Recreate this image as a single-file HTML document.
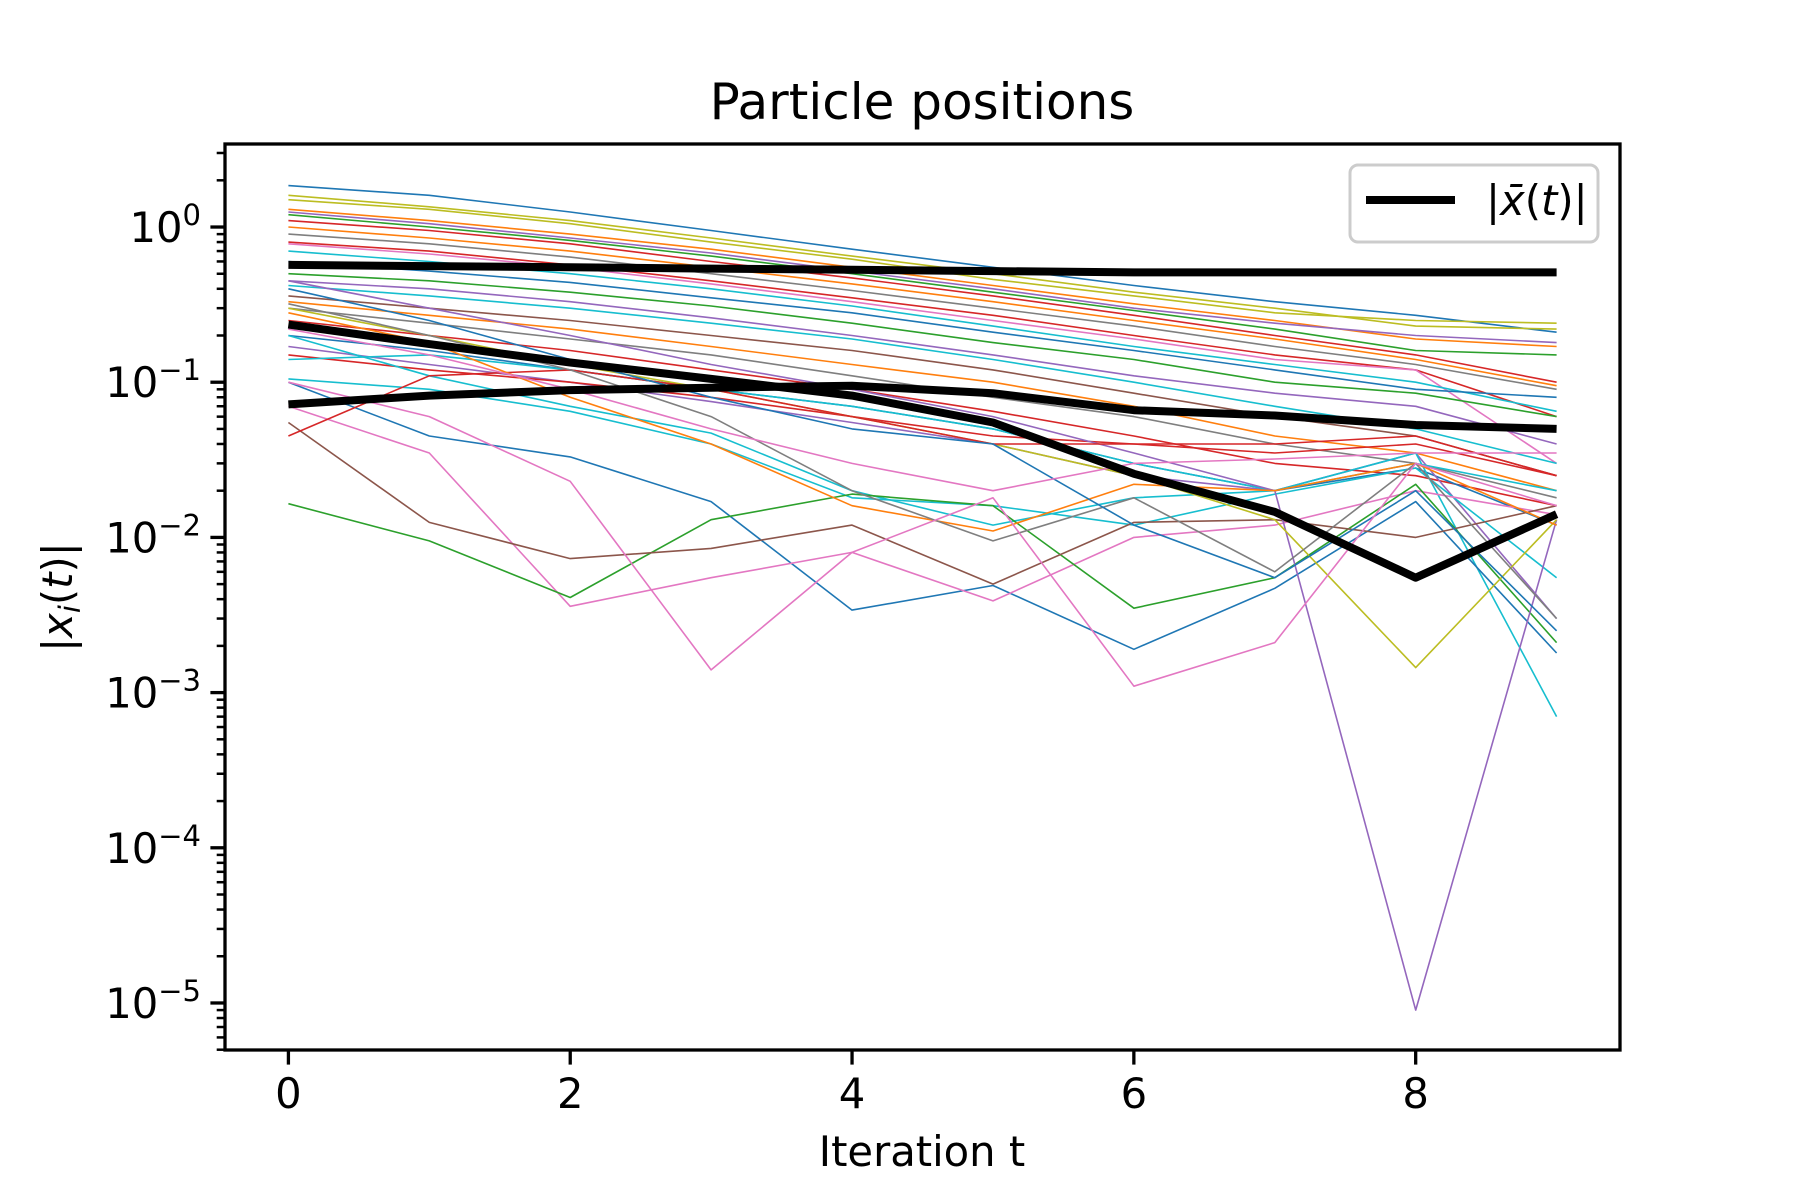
<!DOCTYPE html>
<html><head><meta charset="utf-8"><style>
html,body{margin:0;padding:0;background:#fff;}
svg{display:block;font-family:"DejaVu Sans","Liberation Sans",sans-serif;}
</style></head><body>
<svg id="chart" width="1800" height="1200" viewBox="0 0 1800 1200" xmlns="http://www.w3.org/2000/svg">
<rect width="1800" height="1200" fill="#fff"/>
<text x="922" y="119" font-size="50" text-anchor="middle">Particle positions</text>
<g id="lines"></g>
<g id="axes"></g>
<text x="922" y="1166" font-size="41.7" text-anchor="middle">Iteration t</text>
<text transform="translate(72,597) rotate(-90)" font-size="41.7" text-anchor="middle">|<tspan font-style="italic">x</tspan><tspan font-style="italic" font-size="29" dy="8">i</tspan><tspan dy="-8">(</tspan><tspan font-style="italic">t</tspan>)|</text>
<g>
<rect x="1350" y="165" width="248" height="77" rx="8" fill="#fff" fill-opacity="0.8" stroke="#ccc" stroke-width="3"/>
<line x1="1366" y1="200" x2="1455" y2="200" stroke="#000" stroke-width="8"/>
<text x="1486" y="215" font-size="41.7">|<tspan font-style="italic">x̄</tspan>(<tspan font-style="italic">t</tspan>)|</text>
</g>
</svg>
<script>
const iterations=[0,1,2,3,4,5,6,7,8,9];
const xTicks=[0,2,4,6,8];
const yTickExps=[0,-1,-2,-3,-4,-5];
const thin1=[1.85,1.6,1.25,0.95,0.72,0.55,0.42,0.33,0.27,0.21];
const thin2=[1.6,1.35,1.1,0.85,0.65,0.5,0.38,0.3,0.23,0.22];
const thin3=[1.5,1.3,1.05,0.8,0.62,0.46,0.36,0.28,0.25,0.24];
const thin4=[1.3,1.1,0.9,0.72,0.55,0.42,0.32,0.25,0.19,0.17];
const thin5=[1.25,1.05,0.85,0.68,0.52,0.4,0.3,0.24,0.2,0.18];
const thin6=[1.2,1.0,0.82,0.65,0.5,0.38,0.29,0.22,0.16,0.15];
const thin7=[1.1,0.95,0.78,0.6,0.47,0.36,0.27,0.2,0.15,0.1];
const thin8=[1.0,0.85,0.7,0.55,0.43,0.33,0.25,0.19,0.14,0.095];
const thin9=[0.9,0.78,0.64,0.5,0.39,0.3,0.23,0.17,0.13,0.09];
const thin10=[0.8,0.7,0.57,0.45,0.35,0.27,0.2,0.15,0.12,0.06];
const thin11=[0.78,0.67,0.55,0.43,0.33,0.25,0.19,0.14,0.12,0.03];
const thin12=[0.7,0.6,0.5,0.4,0.31,0.23,0.17,0.13,0.1,0.065];
const thin13=[0.6,0.52,0.44,0.35,0.28,0.21,0.16,0.12,0.09,0.08];
const thin14=[0.5,0.45,0.38,0.31,0.24,0.18,0.14,0.1,0.085,0.06];
const thin15=[0.45,0.4,0.33,0.26,0.2,0.15,0.11,0.085,0.07,0.04];
const thin16=[0.42,0.36,0.3,0.24,0.19,0.14,0.1,0.07,0.05,0.03];
const thin17=[0.36,0.3,0.25,0.2,0.16,0.12,0.085,0.06,0.045,0.025];
const thin18=[0.33,0.27,0.22,0.17,0.13,0.1,0.07,0.045,0.035,0.02];
const thin19=[0.3,0.24,0.19,0.15,0.11,0.08,0.06,0.04,0.03,0.018];
const thin20=[0.25,0.2,0.16,0.12,0.09,0.065,0.045,0.03,0.025,0.016];
const thin21=[0.2,0.16,0.12,0.09,0.07,0.05,0.03,0.02,0.028,0.012];
const thin22=[0.17,0.13,0.1,0.075,0.055,0.04,0.025,0.02,0.035,0.003];
const thin23=[0.15,0.12,0.1,0.08,0.06,0.045,0.04,0.04,0.045,0.025];
const thin24=[0.14,0.15,0.12,0.09,0.07,0.05,0.03,0.02,0.03,0.02];
const thin25=[0.105,0.09,0.065,0.04,0.018,0.016,0.012,0.019,0.028,0.0055];
const thin26=[0.2,0.11,0.07,0.047,0.02,0.012,0.018,0.02,0.035,0.0007];
const thin27=[0.1,0.045,0.033,0.017,0.0034,0.0049,0.0019,0.0047,0.017,0.0018];
const thin28=[0.07,0.035,0.0036,0.0055,0.008,0.0039,0.01,0.012,0.02,0.014];
const thin29=[0.0165,0.0095,0.0041,0.013,0.019,0.016,0.0035,0.0055,0.022,0.0021];
const thin30=[0.055,0.0125,0.0073,0.0085,0.012,0.005,0.0125,0.013,0.01,0.016];
const thin31=[0.45,0.3,0.2,0.13,0.09,0.06,0.035,0.02,0.000009,0.013];
const thin32=[0.3,0.2,0.13,0.09,0.06,0.04,0.025,0.013,0.00145,0.013];
const thin33=[0.045,0.11,0.12,0.09,0.06,0.04,0.04,0.035,0.04,0.025];
const thin34=[0.28,0.18,0.08,0.04,0.016,0.011,0.022,0.02,0.03,0.012];
const thin35=[0.32,0.2,0.12,0.06,0.02,0.0095,0.018,0.006,0.03,0.003];
const thin36=[0.4,0.25,0.14,0.08,0.05,0.04,0.012,0.0055,0.02,0.0025];
const thin37=[0.1,0.06,0.023,0.0014,0.008,0.018,0.0011,0.0021,0.03,0.016];
const thin38=[0.22,0.15,0.09,0.05,0.03,0.02,0.03,0.032,0.035,0.035];
const meanA=[0.57,0.56,0.55,0.54,0.53,0.52,0.51,0.51,0.51,0.51];
const meanB=[0.235,0.176,0.134,0.105,0.082,0.055,0.0257,0.0146,0.0055,0.0141];
const meanC=[0.072,0.082,0.089,0.092,0.095,0.085,0.066,0.061,0.053,0.050];
const thinSeries=[thin1,thin2,thin3,thin4,thin5,thin6,thin7,thin8,thin9,thin10,thin11,thin12,thin13,thin14,thin15,thin16,thin17,thin18,thin19,thin20,thin21,thin22,thin23,thin24,thin25,thin26,thin27,thin28,thin29,thin30,thin31,thin32,thin33,thin34,thin35,thin36,thin37,thin38];
const palette=["#1f77b4","#ff7f0e","#2ca02c","#d62728","#9467bd","#8c564b","#e377c2","#7f7f7f","#bcbd22","#17becf"];
const thinColors=[0,8,8,1,4,2,3,1,7,3,6,9,0,2,4,9,5,1,7,3,0,4,3,9,9,9,0,6,2,5,4,8,3,1,7,0,6,6];

const L=225,R=1620,T=144,B=1050;
const xMin=-0.45,xMax=9.45,yMaxLog=0.535,yMinLog=-5.303;
function xs(v){return L+(v-xMin)/(xMax-xMin)*(R-L);}
function ys(v){const lg=Math.log10(v);return T+(yMaxLog-lg)/(yMaxLog-yMinLog)*(B-T);}
const NS="http://www.w3.org/2000/svg";
const lines=document.getElementById('lines');
const axes=document.getElementById('axes');
function mk(tag,attrs,parent){const e=document.createElementNS(NS,tag);for(const k in attrs)e.setAttribute(k,attrs[k]);parent.appendChild(e);return e;}
function pts(arr){return arr.map((v,i)=>xs(iterations[i]).toFixed(1)+","+ys(v).toFixed(1)).join(" ");}
const clip=mk('clipPath',{id:'plotclip'},lines);
mk('rect',{x:L,y:T,width:R-L,height:B-T},clip);
lines.setAttribute('clip-path','url(#plotclip)');
thinSeries.forEach((s,i)=>{
  const p=mk('polyline',{points:pts(s),fill:'none',stroke:palette[thinColors[i]],'stroke-width':1.6,'stroke-linejoin':'round'},lines);
  
  
});
[meanA,meanB,meanC].forEach((s,i)=>{
  const p=mk('polyline',{points:pts(s),fill:'none',stroke:'#000','stroke-width':8,'stroke-linejoin':'round'},lines);
  
  
});
const frame=mk('rect',{x:L,y:T,width:R-L,height:B-T,fill:'none',stroke:'#000','stroke-width':3.3},axes);


xTicks.forEach(v=>{
  const x=xs(v);
  const t=mk('line',{x1:x,y1:B,x2:x,y2:B+14.6,stroke:'#000','stroke-width':3.3},axes);
  
  
  const lb=mk('text',{x:x,y:B+58,'font-size':41.7,'text-anchor':'middle'},axes);
  lb.textContent=String(v);
  
  
});
for(let e=-6;e<=0;e++){
  for(let m=2;m<=9;m++){
    const v=m*Math.pow(10,e);const y=ys(v);
    if(y<T||y>B)continue;
    const t=mk('line',{x1:L-8.3,y1:y,x2:L,y2:y,stroke:'#000','stroke-width':2.5},axes);
    
    
  }
}
yTickExps.forEach(e=>{
  const y=ys(Math.pow(10,e));
  const t=mk('line',{x1:L-14.6,y1:y,x2:L,y2:y,stroke:'#000','stroke-width':3.3},axes);
  
  
  const lb=mk('text',{x:L-24,y:y+15,'font-size':41.7,'text-anchor':'end'},axes);
  
  
  const base=document.createElementNS(NS,'tspan');base.textContent='10';lb.appendChild(base);
  const sup=document.createElementNS(NS,'tspan');sup.setAttribute('font-size','29');sup.setAttribute('dy','-17');
  sup.textContent=e===0?'0':'\u2212'+(-e);lb.appendChild(sup);
});
</script>
</body></html>
